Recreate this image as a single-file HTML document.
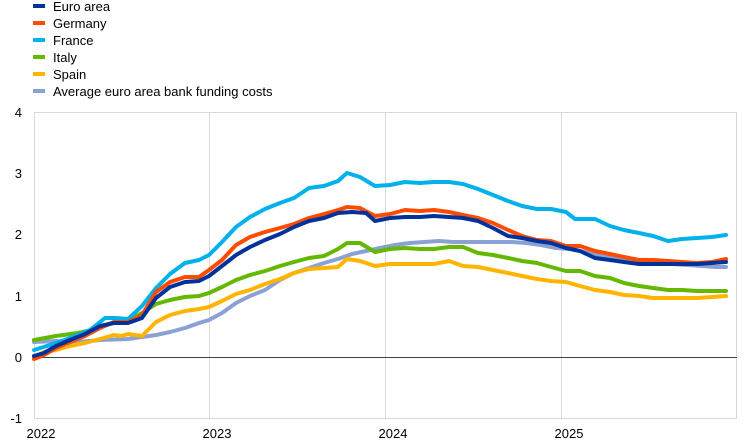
<!DOCTYPE html>
<html><head><meta charset="utf-8"><style>
html,body{margin:0;padding:0;background:#fff;}
svg{display:block;font-family:"Liberation Sans",Arial,sans-serif;}
</style></head><body>
<svg width="744" height="444" viewBox="0 0 744 444" xmlns="http://www.w3.org/2000/svg">
<g font-size="13" fill="#000">
<rect x="33" y="4" width="12" height="4" fill="#003299"/><text x="53" y="11">Euro area</text>
<rect x="33" y="21" width="12" height="4" fill="#ff4b00"/><text x="53" y="28">Germany</text>
<rect x="33" y="38" width="12" height="4" fill="#00b1ea"/><text x="53" y="45">France</text>
<rect x="33" y="55" width="12" height="4" fill="#65b800"/><text x="53" y="62">Italy</text>
<rect x="33" y="72" width="12" height="4" fill="#ffb400"/><text x="53" y="79">Spain</text>
<rect x="33" y="89" width="12" height="4" fill="#8ba0d3"/><text x="53" y="96">Average euro area bank funding costs</text>
</g>
<g stroke="#d9d9d9" stroke-width="1" fill="none">
<rect x="34.5" y="112.5" width="702" height="306"/>
<line x1="209.5" y1="112" x2="209.5" y2="419"/>
<line x1="385.5" y1="112" x2="385.5" y2="419"/>
<line x1="561.5" y1="112" x2="561.5" y2="419"/>
</g>
<line x1="34" y1="357.5" x2="737" y2="357.5" stroke="#404040" stroke-width="1"/>
<g font-size="13" fill="#000" text-anchor="end">
<text x="22" y="117">4</text><text x="22" y="178">3</text><text x="22" y="239">2</text>
<text x="22" y="301">1</text><text x="22" y="362">0</text><text x="22" y="423">-1</text>
</g>
<g font-size="13" fill="#000" text-anchor="middle">
<text x="41" y="438">2022</text><text x="217" y="438">2023</text><text x="393" y="438">2024</text><text x="569" y="438">2025</text>
</g>
<g fill="none" stroke-width="4" stroke-linejoin="round" stroke-linecap="round">
<polyline stroke="#8ba0d3" points="34,342 56,341 78,342 100,340 128,339 142,337 156,335 170,332 185,328 199,323 209,320 222,313 236,303 250,296 265,290 280,280 294,273 309,268 324,263 338,259 352,254 366,251 380,248 395,245 410,243 424,242 439,241 453,242 468,242 482,242 497,242 512,242 526,243 541,245 556,248 570,249 585,252 600,255 614,258 629,261 643,262 658,264 672,264 687,265 702,266 716,267 726,267"/>
<polyline stroke="#ffb400" points="34,357 44,352 56,350 70,346 85,343 100,339 114,335 121,336 128,334 142,336 156,322 170,315 185,311 199,309 209,307 222,301 236,294 250,290 265,284 280,279 294,273 309,269 324,268 338,267 347,259 360,261 375,266 390,264 405,264 420,264 434,264 449,261 463,266 478,267 493,270 508,273 522,276 537,279 551,281 566,282 580,286 595,290 610,292 624,295 639,296 653,298 668,298 682,298 697,298 712,297 726,296"/>
<polyline stroke="#65b800" points="34,340 56,336 78,333 92,330 105,325 116,322 128,321 142,313 156,304 170,300 185,297 199,296 209,293 222,287 236,280 250,275 265,271 280,266 294,262 309,258 324,256 338,249 347,243 360,243 375,252 390,249 405,248 420,249 434,249 449,247 463,247 478,253 493,255 508,258 522,261 537,263 551,267 566,271 580,271 595,276 610,278 624,283 639,286 653,288 668,290 682,290 697,291 712,291 726,291"/>
<polyline stroke="#00b1ea" points="34,350 50,345 70,338 90,330 105,318 116,318 128,319 142,306 156,288 170,274 185,263 199,260 209,255 222,242 236,227 250,217 265,209 280,203 294,198 309,188 324,186 338,181 347,173 360,177 375,186 390,185 405,182 420,183 434,182 449,182 463,184 478,189 493,195 508,201 522,206 537,209 551,209 566,212 575,219 595,219 610,226 624,230 639,233 653,236 668,241 682,239 697,238 712,237 726,235"/>
<polyline stroke="#ff4b00" points="34,359 44,355 56,348 70,342 85,336 100,328 114,322 128,322 142,315 156,292 170,282 185,277 199,277 209,270 222,260 236,245 250,237 265,232 280,228 294,224 309,218 324,214 338,210 347,207 360,208 375,216 390,214 405,210 420,211 434,210 449,212 463,215 478,218 493,223 508,230 522,236 537,240 551,241 566,246 580,246 595,251 610,254 624,257 639,260 653,260 668,261 682,262 697,263 712,262 726,259"/>
<polyline stroke="#003299" points="34,356 44,353 56,346 70,340 85,334 100,326 114,323 128,323 142,318 156,298 170,287 185,282 199,281 209,276 222,266 236,255 250,247 265,240 280,234 294,227 309,221 324,218 338,213 352,212 366,213 375,221 390,218 405,217 420,217 434,216 449,217 463,218 478,221 493,228 508,236 522,238 537,241 551,243 566,248 580,251 595,258 610,260 624,262 639,264 653,264 668,264 682,264 697,264 712,263 726,262"/>
</g>
</svg>
</body></html>
